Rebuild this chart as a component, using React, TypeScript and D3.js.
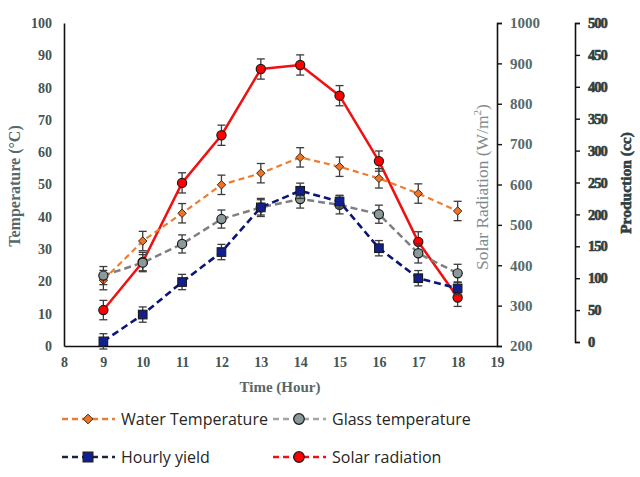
import { useEffect, useRef } from 'react';
import * as d3 from 'd3';

const hours = [9, 10, 11, 12, 13, 14, 15, 16, 17, 18];

// Temperatures (°C), left axis
const waterTemp = [20.4, 32.5, 41.1, 49.9, 53.5, 58.4, 55.5, 51.9, 47.2, 41.8];
const waterErr = [3, 3, 3, 3, 3, 3, 3, 3, 3, 3];
const glassTemp = [21.8, 25.8, 31.6, 39.3, 42.9, 45.5, 43.7, 40.8, 28.7, 22.5];
const glassErr = [2.8, 2.5, 2.8, 2.8, 2.8, 2.8, 2.8, 2.8, 3, 2.8];

// Solar radiation (W/m²), first right axis
const solar = [289, 408, 604, 722, 886, 896, 820, 658, 458, 320];
const solarErr = [24, 24, 25, 25, 25, 25, 25, 25, 25, 22];

// Hourly yield (cc), second right axis
const yieldCc = [1, 43, 94, 141, 211, 237, 220, 147, 100, 84];
const yieldErr = [12, 12, 12, 12, 12, 12, 10, 12, 12, 10];

const tempTicks = d3.range(0, 101, 10);
const hourTicks = d3.range(8, 20, 1);
const solarTicks = d3.range(200, 1001, 100);
const prodTicks = d3.range(0, 501, 50);

type Series = {
  name: string;
  values: number[];
  errors: number[];
  axis: 'temp' | 'solar' | 'prod';
  color: string;
  legendColor: string;
  fill: string;
  marker: 'diamond' | 'circle' | 'square';
  dash: string | null;
  lineWidth: number;
};

const series: Series[] = [
  { name: 'Solar radiation', values: solar, errors: solarErr, axis: 'solar', color: '#f01010', legendColor: '#f01010', fill: '#ff0000', marker: 'circle', dash: null, lineWidth: 2.5 },
  { name: 'Water Temperature', values: waterTemp, errors: waterErr, axis: 'temp', color: '#ed7d31', legendColor: '#ed7d31', fill: '#ee7426', marker: 'diamond', dash: '6,4', lineWidth: 2.2 },
  { name: 'Glass temperature', values: glassTemp, errors: glassErr, axis: 'temp', color: '#7f7f7f', legendColor: '#a5a5a5', fill: '#8a9999', marker: 'circle', dash: '7,4', lineWidth: 2.5 },
  { name: 'Hourly yield', values: yieldCc, errors: yieldErr, axis: 'prod', color: '#0b1478', legendColor: '#1a2440', fill: '#12208f', marker: 'square', dash: '7,4', lineWidth: 2.6 },
];

const legendOrder = ['Water Temperature', 'Glass temperature', 'Hourly yield', 'Solar radiation'];

const serif = 'Liberation Serif, DejaVu Serif, serif';

function drawMarker(g: d3.Selection<SVGGElement, unknown, null, undefined>, kind: string, cx: number, cy: number, fill: string, k = 1) {
  if (kind === 'circle') {
    g.append('circle').attr('cx', cx).attr('cy', cy).attr('r', 4.6 * k).attr('fill', fill).attr('stroke', '#1a1a1a').attr('stroke-width', 1.2);
  } else if (kind === 'square') {
    const h = 4.3 * k;
    g.append('rect').attr('x', cx - h).attr('y', cy - h).attr('width', 2 * h).attr('height', 2 * h).attr('fill', fill).attr('stroke', '#1a1a1a').attr('stroke-width', 1.1);
  } else {
    const s = 4.2 * k;
    g.append('path')
      .attr('d', `M${cx},${cy - s}L${cx + s},${cy}L${cx},${cy + s}L${cx - s},${cy}Z`)
      .attr('fill', fill)
      .attr('stroke', '#3a2a1a')
      .attr('stroke-width', 1);
  }
}

export default function App(): JSX.Element {
  const svgRef = useRef<SVGSVGElement>(null);

  useEffect(() => {
    if (!svgRef.current) return;
    svgRef.current.innerHTML = '';
    const width = 640;
    const height = 477;
    const svg = d3.select(svgRef.current).attr('width', width).attr('height', height);

    const x = d3.scaleLinear([8, 19], [64, 497]);
    const yTemp = d3.scaleLinear([0, 100], [346, 23]);
    const ySolar = d3.scaleLinear([200, 1000], [346, 23]);
    const yProd = d3.scaleLinear([0, 500], [342, 23]);
    const scaleFor = { temp: yTemp, solar: ySolar, prod: yProd };

    // Left axis (no tick marks)
    const left = svg.append('g').attr('transform', 'translate(64,0)')
      .call(d3.axisLeft(yTemp).tickValues(tempTicks).tickSize(0).tickPadding(12).tickFormat(d3.format('d')));
    left.attr('font-family', serif);
    left.select('.domain').attr('stroke', '#111').attr('stroke-width', 1.6);
    left.selectAll('text').attr('font-size', 14).attr('font-weight', 'bold').attr('fill', '#445454');

    // Bottom axis
    const bottom = svg.append('g').attr('transform', 'translate(0,346)')
      .call(d3.axisBottom(x).tickValues(hourTicks).tickSize(0).tickPadding(11).tickFormat(d3.format('d')));
    bottom.attr('font-family', serif);
    bottom.select('.domain').attr('stroke', '#111').attr('stroke-width', 1.6);
    bottom.selectAll('text').attr('font-size', 14).attr('font-weight', 'bold').attr('fill', '#445454');

    // Solar radiation axis
    const right1 = svg.append('g').attr('transform', 'translate(497,0)')
      .call(d3.axisRight(ySolar).tickValues(solarTicks).tickSize(5).tickPadding(8).tickFormat(d3.format('d')));
    right1.attr('font-family', serif);
    right1.select('.domain').attr('stroke', '#111').attr('stroke-width', 1.6);
    right1.selectAll('line').attr('stroke', '#111').attr('stroke-width', 1.4);
    right1.selectAll('text').attr('font-size', 15).attr('font-weight', 'bold').attr('fill', '#586868');

    // Production axis
    const right2 = svg.append('g').attr('transform', 'translate(575,0)')
      .call(d3.axisRight(yProd).tickValues(prodTicks).tickSize(5).tickPadding(8).tickFormat(d3.format('d')));
    right2.attr('font-family', serif);
    right2.select('.domain').attr('stroke', '#111').attr('stroke-width', 1.6);
    right2.selectAll('line').attr('stroke', '#111').attr('stroke-width', 1.4);
    right2.selectAll('text').attr('font-size', 14.5).attr('font-weight', 'bold').attr('fill', '#2f3f3f')
      .attr('letter-spacing', -1).attr('stroke', '#2f3f3f').attr('stroke-width', 0.6);

    // Axis titles
    svg.append('text').attr('transform', 'translate(20,186) rotate(-90)').attr('text-anchor', 'middle')
      .attr('font-family', serif).attr('font-size', 16).attr('font-weight', 'bold').attr('fill', '#566868').text('Temperature (°C)');
    const solarTitle = svg.append('text').attr('transform', 'translate(488,187) rotate(-90)').attr('text-anchor', 'middle')
      .attr('font-family', serif).attr('font-size', 17.5).attr('fill', '#7f8c8d');
    solarTitle.append('tspan').text('Solar Radiation (W/m');
    solarTitle.append('tspan').attr('dy', -7).attr('font-size', 11).text('2');
    solarTitle.append('tspan').attr('dy', 7).text(')');
    svg.append('text').attr('transform', 'translate(631,183) rotate(-90)').attr('text-anchor', 'middle')
      .attr('font-family', serif).attr('font-size', 15.5).attr('font-weight', 'bold').attr('fill', '#2f3f3f')
      .attr('stroke', '#2f3f3f').attr('stroke-width', 0.6).text('Production (cc)');
    svg.append('text').attr('x', 280).attr('y', 392).attr('text-anchor', 'middle')
      .attr('font-family', serif).attr('font-size', 15).attr('font-weight', 'bold').attr('fill', '#566868').text('Time (Hour)');

    // Series
    series.forEach((s) => {
      const y = scaleFor[s.axis];
      const g = svg.append('g');
      const line = d3.line<number>().x((_, i) => x(hours[i])).y((d) => y(d));
      g.append('path')
        .attr('d', line(s.values))
        .attr('fill', 'none')
        .attr('stroke', s.color)
        .attr('stroke-width', s.lineWidth)
        .attr('stroke-dasharray', s.dash)
        .attr('stroke-linejoin', 'round');
      s.values.forEach((v, i) => {
        const cx = x(hours[i]);
        const top = y(v + s.errors[i]);
        const bot = y(v - s.errors[i]);
        g.append('line').attr('x1', cx).attr('x2', cx).attr('y1', top).attr('y2', bot).attr('stroke', '#3c3c3c').attr('stroke-width', 1.3);
        g.append('line').attr('x1', cx - 4).attr('x2', cx + 4).attr('y1', top).attr('y2', top).attr('stroke', '#3c3c3c').attr('stroke-width', 1.3);
        g.append('line').attr('x1', cx - 4).attr('x2', cx + 4).attr('y1', bot).attr('y2', bot).attr('stroke', '#3c3c3c').attr('stroke-width', 1.3);
      });
      s.values.forEach((v, i) => drawMarker(g, s.marker, x(hours[i]), y(v), s.fill));
    });

    // Legend
    const legend = svg.append('g');
    legendOrder.forEach((name, i) => {
      const s = series.find((d) => d.name === name)!;
      const col = i % 2;
      const row = Math.floor(i / 2);
      const lx = col === 0 ? 62 : 273;
      const ly = row === 0 ? 419 : 457;
      const g = legend.append('g');
      g.append('line').attr('x1', lx).attr('x2', lx + 53).attr('y1', ly).attr('y2', ly)
        .attr('stroke', s.legendColor).attr('stroke-width', 2.6).attr('stroke-dasharray', '6,4');
      drawMarker(g, s.marker, lx + 26, ly, s.fill, 1.15);
      g.append('text').attr('x', lx + 59).attr('y', ly + 6).attr('font-family', 'Open Sans, sans-serif')
        .attr('font-size', 16).attr('fill', '#262626').text(s.name);
    });
  }, []);

  return (
    <div style={{ position: 'absolute', left: 0, top: 0, width: 640, height: 477, background: '#fff' }}>
      <svg ref={svgRef} />
    </div>
  );
}
